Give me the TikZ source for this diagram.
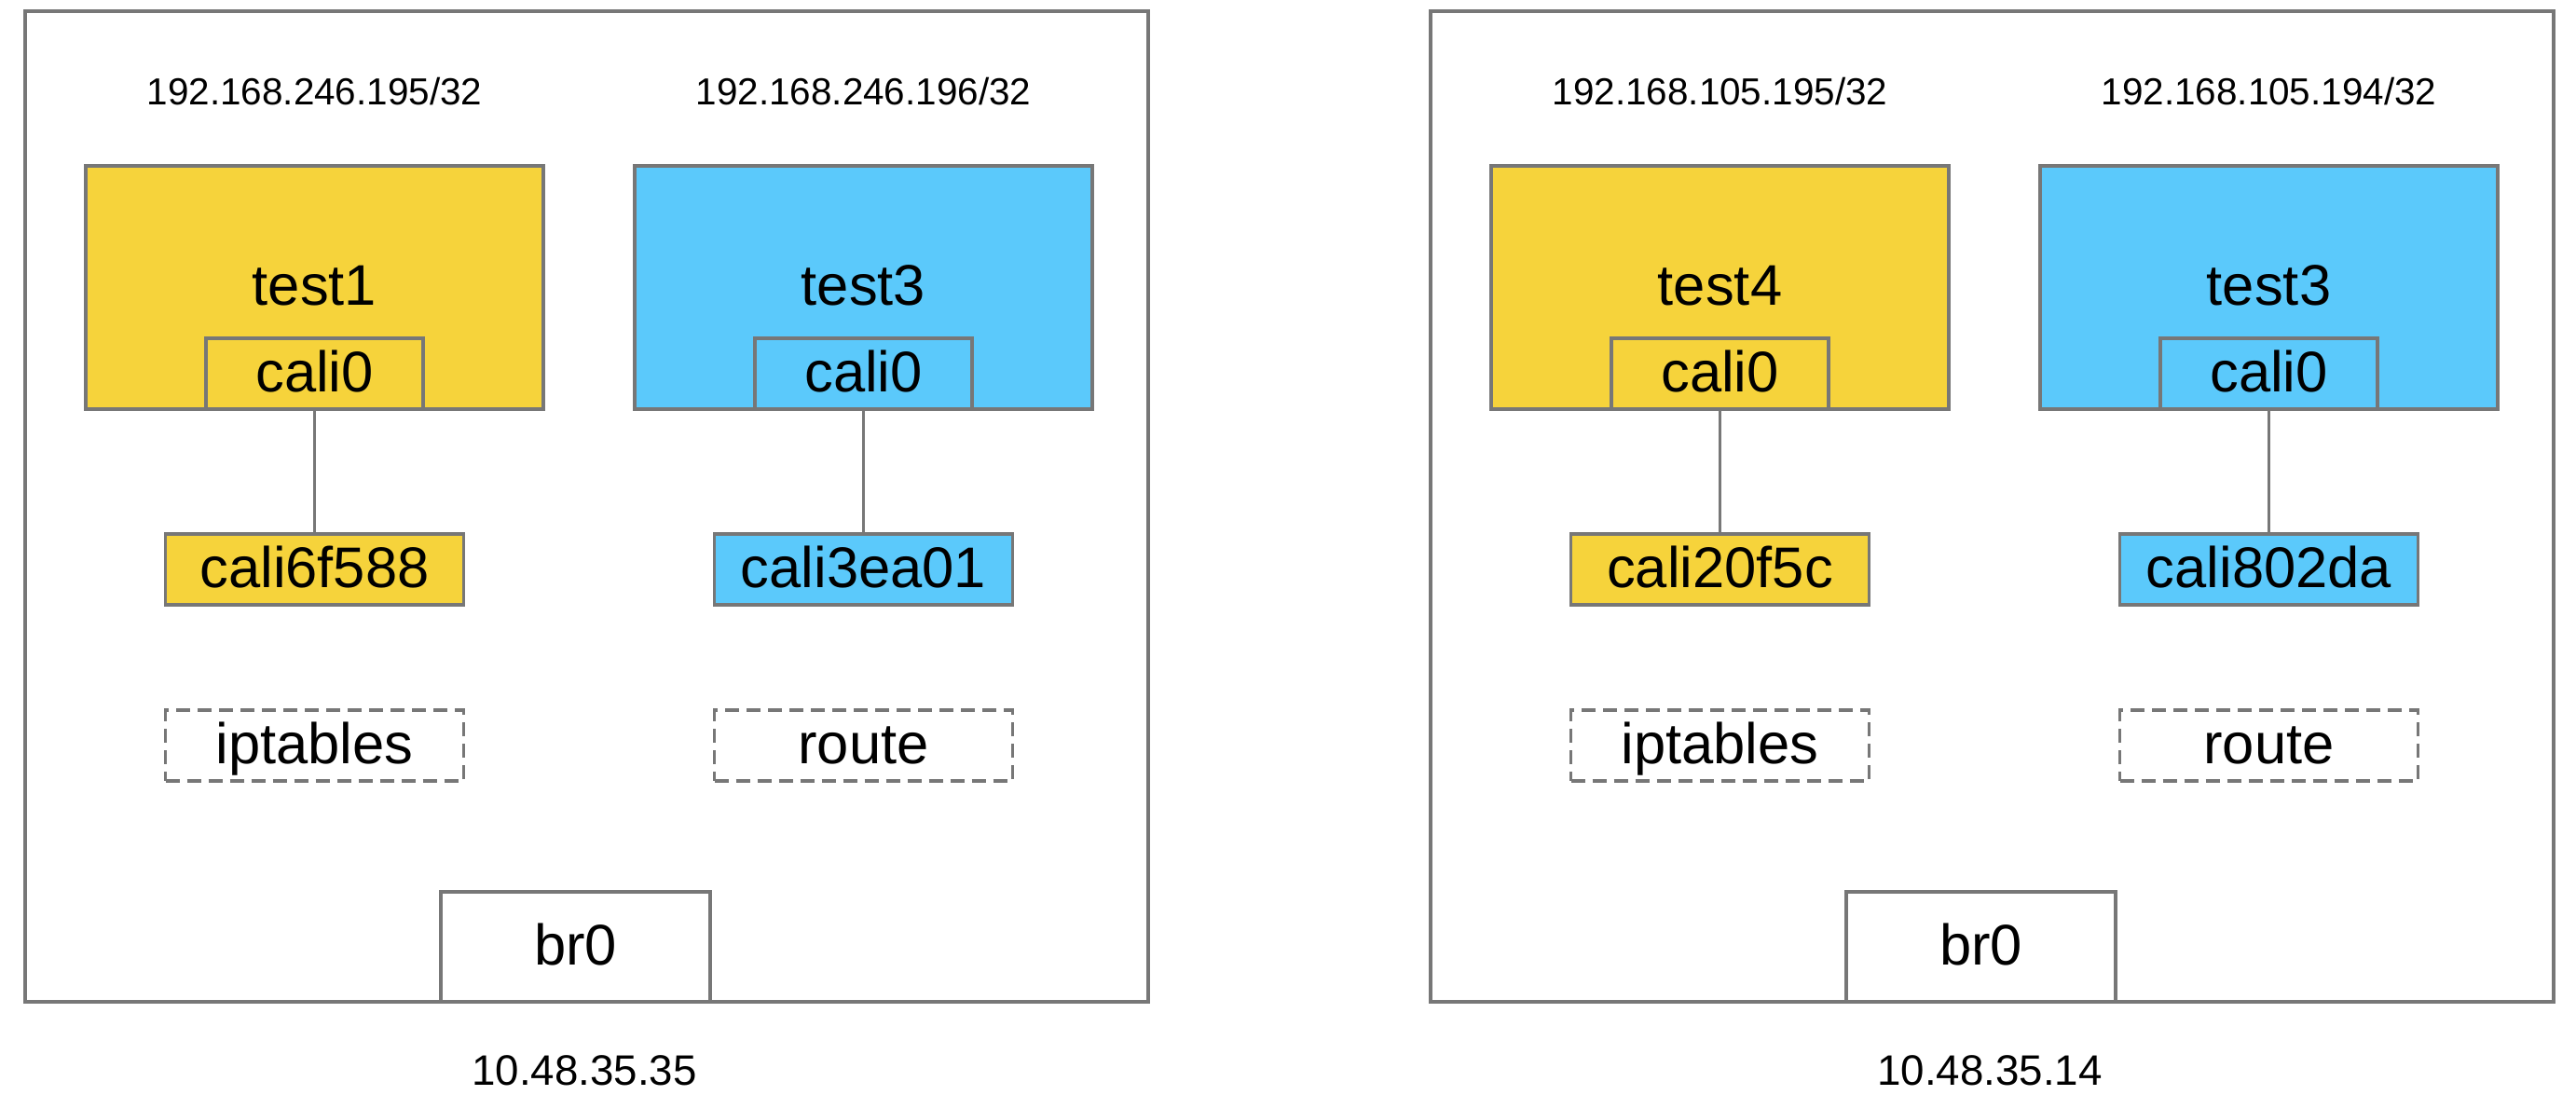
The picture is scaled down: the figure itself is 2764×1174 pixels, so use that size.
\documentclass[tikz,border=0pt]{standalone}
\usepackage{fontspec}
\setmainfont{Liberation Sans}
\usepackage{tikz}
\definecolor{podyellow}{HTML}{F6D33B}
\definecolor{podblue}{HTML}{5BC9FB}
\definecolor{edgegray}{HTML}{777777}

\begin{document}
\begin{tikzpicture}[x=0.1mm, y=-0.1mm, line width=0.9pt,
  box/.style={draw=edgegray, anchor=center, align=center, inner sep=0pt, text height=12.5pt, text depth=1.5pt, font=\fontsize{17.5}{20}\selectfont},
  hostbox/.style={box, minimum width=120.5mm, minimum height=106.3mm},
  pod/.style={box, minimum width=49.1mm, minimum height=26.1mm},
  nic/.style={box, minimum width=23.3mm, minimum height=7.6mm, anchor=south},
  veth/.style={box, minimum width=32mm, minimum height=7.6mm},
  ruleset/.style={veth, dash pattern=on 1.5mm off 0.8mm},
  bridge/.style={box, fill=white, minimum width=28.9mm, minimum height=11.8mm},
  iplabel/.style={font=\fontsize{11.5}{13}\selectfont},
  hostlabel/.style={font=\fontsize{13}{15}\selectfont}]
\useasboundingbox (0,0) rectangle (2764,1174);
\foreach \i/\dx/\podA/\podB/\vethA/\vethB/\ipA/\ipB/\host in {1/0/test1/test3/cali6f588/cali3ea01/246.195/246.196/10.48.35.35, 2/1508/test4/test3/cali20f5c/cali802da/105.195/105.194/10.48.35.14}{
\begin{scope}[shift={(\dx,0)}]
\node[hostbox] (host\i) at (629.5,543.5) {};
\node[iplabel] (ipa\i) at (337.5,98) {192.168.\ipA/32};
\node[iplabel] (ipb\i) at (926.5,98) {192.168.\ipB/32};
\node[pod, fill=podyellow] (poda\i) at (337.5,308.5) {\podA};
\node[pod, fill=podblue] (podb\i) at (926.5,308.5) {\podB};
\node[nic, fill=podyellow] (nica\i) at (poda\i.south) {cali0};
\node[nic, fill=podblue] (nicb\i) at (podb\i.south) {cali0};
\node[veth, fill=podyellow] (vetha\i) at (337.5,611) {\vethA};
\node[veth, fill=podblue] (vethb\i) at (926.5,611) {\vethB};
\node[ruleset] (ipt\i) at (337.5,800) {iptables};
\node[ruleset] (route\i) at (926.5,800) {route};
\node[bridge] (br\i) at (617.5,1016) {br0};
\node[hostlabel] (addr\i) at (627,1149) {\host};
\draw[edgegray] (nica\i) -- (vetha\i);
\draw[edgegray] (nicb\i) -- (vethb\i);
\end{scope}
}
\end{tikzpicture}
\end{document}
